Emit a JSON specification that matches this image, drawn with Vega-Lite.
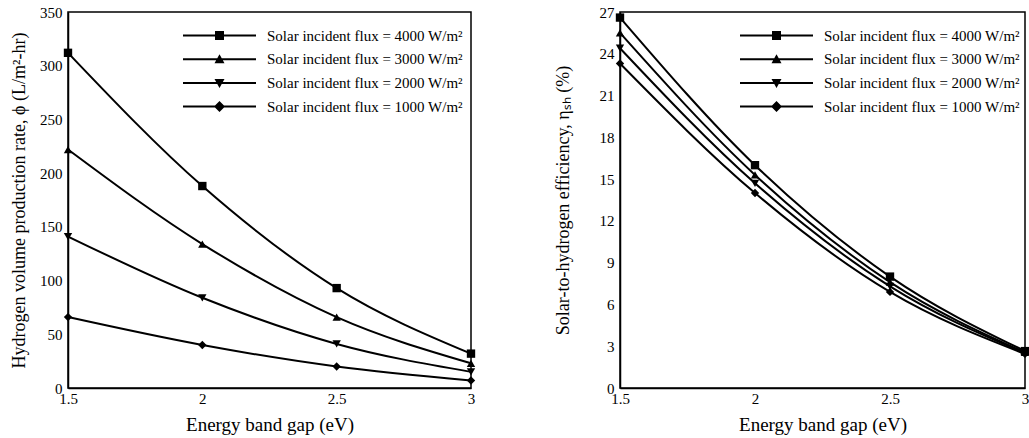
{
  "$schema": "https://vega.github.io/schema/vega-lite/v6.json",
  "background": "white",
  "padding": {"left": 9, "top": 4, "right": 0, "bottom": 0},
  "spacing": 77,
  "config": {
    "font": "Liberation Serif",
    "view": {"stroke": "black", "strokeWidth": 1.5},
    "axis": {
      "domainColor": "black", "domainWidth": 1.5, "ticks": false, "zindex": 1,
      "labelColor": "black", "labelFont": "Liberation Serif", "labelFontSize": 15,
      "titleFont": "Liberation Serif", "titleFontSize": 18, "titleFontWeight": "normal", "titleColor": "black",
      "grid": false, "labelFlush": false, "labelOverlap": false, "labelBound": false
    },
    "axisX": {"titleFontSize": 19},
    "legend": {
      "orient": "none", "title": null, "labelFont": "Liberation Serif", "labelFontSize": 15, "labelColor": "black",
      "labelLimit": 0, "symbolSize": 100, "symbolFillColor": "black", "symbolStrokeColor": "black",
      "symbolStrokeWidth": 0, "labelOffset": 40, "rowPadding": 7.7
    }
  },
  "datasets": {
    "rate": [
      {"gap": 1.5, "flux": "Solar incident flux = 4000 W/m²", "v": 312},
      {"gap": 2.0, "flux": "Solar incident flux = 4000 W/m²", "v": 188},
      {"gap": 2.5, "flux": "Solar incident flux = 4000 W/m²", "v": 93},
      {"gap": 3.0, "flux": "Solar incident flux = 4000 W/m²", "v": 32},
      {"gap": 1.5, "flux": "Solar incident flux = 3000 W/m²", "v": 222},
      {"gap": 2.0, "flux": "Solar incident flux = 3000 W/m²", "v": 134},
      {"gap": 2.5, "flux": "Solar incident flux = 3000 W/m²", "v": 66},
      {"gap": 3.0, "flux": "Solar incident flux = 3000 W/m²", "v": 23},
      {"gap": 1.5, "flux": "Solar incident flux = 2000 W/m²", "v": 141},
      {"gap": 2.0, "flux": "Solar incident flux = 2000 W/m²", "v": 84},
      {"gap": 2.5, "flux": "Solar incident flux = 2000 W/m²", "v": 41},
      {"gap": 3.0, "flux": "Solar incident flux = 2000 W/m²", "v": 15},
      {"gap": 1.5, "flux": "Solar incident flux = 1000 W/m²", "v": 66},
      {"gap": 2.0, "flux": "Solar incident flux = 1000 W/m²", "v": 40},
      {"gap": 2.5, "flux": "Solar incident flux = 1000 W/m²", "v": 20},
      {"gap": 3.0, "flux": "Solar incident flux = 1000 W/m²", "v": 7}
    ],
    "eff": [
      {"gap": 1.5, "flux": "Solar incident flux = 4000 W/m²", "v": 26.6},
      {"gap": 2.0, "flux": "Solar incident flux = 4000 W/m²", "v": 16.0},
      {"gap": 2.5, "flux": "Solar incident flux = 4000 W/m²", "v": 8.0},
      {"gap": 3.0, "flux": "Solar incident flux = 4000 W/m²", "v": 2.65},
      {"gap": 1.5, "flux": "Solar incident flux = 3000 W/m²", "v": 25.5},
      {"gap": 2.0, "flux": "Solar incident flux = 3000 W/m²", "v": 15.3},
      {"gap": 2.5, "flux": "Solar incident flux = 3000 W/m²", "v": 7.6},
      {"gap": 3.0, "flux": "Solar incident flux = 3000 W/m²", "v": 2.55},
      {"gap": 1.5, "flux": "Solar incident flux = 2000 W/m²", "v": 24.4},
      {"gap": 2.0, "flux": "Solar incident flux = 2000 W/m²", "v": 14.7},
      {"gap": 2.5, "flux": "Solar incident flux = 2000 W/m²", "v": 7.3},
      {"gap": 3.0, "flux": "Solar incident flux = 2000 W/m²", "v": 2.5},
      {"gap": 1.5, "flux": "Solar incident flux = 1000 W/m²", "v": 23.3},
      {"gap": 2.0, "flux": "Solar incident flux = 1000 W/m²", "v": 14.0},
      {"gap": 2.5, "flux": "Solar incident flux = 1000 W/m²", "v": 6.9},
      {"gap": 3.0, "flux": "Solar incident flux = 1000 W/m²", "v": 2.45}
    ]
  },
  "hconcat": [
    {
      "width": 403, "height": 376,
      "data": {"name": "rate"},
      "encoding": {
        "x": {"field": "gap", "type": "quantitative", "scale": {"domain": [1.5, 3], "nice": false, "zero": false},
          "axis": {"title": "Energy band gap (eV)", "values": [1.5, 2, 2.5, 3], "format": "~g", "labelPadding": 3, "titlePadding": 9}},
        "y": {"field": "v", "type": "quantitative", "scale": {"domain": [0, 350], "nice": false},
          "axis": {"title": "Hydrogen volume production rate, ϕ (L/m²-hr)", "values": [0, 50, 100, 150, 200, 250, 300, 350], "labelPadding": 6, "titlePadding": 11}}
      },
      "layer": [
        {"mark": {"type": "line", "interpolate": "monotone", "color": "black", "strokeWidth": 2},
         "encoding": {"detail": {"field": "flux"}}},
        {"mark": {"type": "point", "filled": true, "color": "black", "opacity": 1, "size": 70},
         "encoding": {"shape": {"field": "flux", "type": "nominal",
           "scale": {"domain": ["Solar incident flux = 4000 W/m²", "Solar incident flux = 3000 W/m²", "Solar incident flux = 2000 W/m²", "Solar incident flux = 1000 W/m²"],
                     "range": ["square", "triangle-up", "triangle-down", "diamond"]},
           "legend": null}}},
        {"transform": [{"filter": "false"}],
         "mark": {"type": "point", "filled": true, "color": "black", "opacity": 1},
         "encoding": {"shape": {"field": "flux", "type": "nominal",
           "scale": {"domain": ["Solar incident flux = 4000 W/m²", "Solar incident flux = 3000 W/m²", "Solar incident flux = 2000 W/m²", "Solar incident flux = 1000 W/m²"],
                     "range": ["M-7.3,-0.2H7.3V0.2H-7.3ZM-0.9,-0.9H0.9V0.9H-0.9Z", "M-7.3,-0.2H7.3V0.2H-7.3ZM-1,0.8L0,-1L1,0.8Z", "M-7.3,-0.2H7.3V0.2H-7.3ZM-1,-0.8L1,-0.8L0,1Z", "M-7.3,-0.2H7.3V0.2H-7.3ZM-1.1,0L0,-1.1L1.1,0L0,1.1Z"]},
           "legend": {"legendX": 144, "legendY": 16}}}}
      ],
      "resolve": {"scale": {"shape": "independent"}}
    },
    {
      "width": 405, "height": 376,
      "data": {"name": "eff"},
      "encoding": {
        "x": {"field": "gap", "type": "quantitative", "scale": {"domain": [1.5, 3], "nice": false, "zero": false},
          "axis": {"title": "Energy band gap (eV)", "values": [1.5, 2, 2.5, 3], "format": "~g", "labelPadding": 3, "titlePadding": 9}},
        "y": {"field": "v", "type": "quantitative", "scale": {"domain": [0, 27], "nice": false},
          "axis": {"title": "Solar-to-hydrogen efficiency, ηₛₕ (%)", "values": [0, 3, 6, 9, 12, 15, 18, 21, 24, 27], "format": "d", "labelPadding": 6, "titlePadding": 27}}
      },
      "layer": [
        {"mark": {"type": "line", "interpolate": "monotone", "color": "black", "strokeWidth": 2},
         "encoding": {"detail": {"field": "flux"}}},
        {"mark": {"type": "point", "filled": true, "color": "black", "opacity": 1, "size": 70},
         "encoding": {"shape": {"field": "flux", "type": "nominal",
           "scale": {"domain": ["Solar incident flux = 4000 W/m²", "Solar incident flux = 3000 W/m²", "Solar incident flux = 2000 W/m²", "Solar incident flux = 1000 W/m²"],
                     "range": ["square", "triangle-up", "triangle-down", "diamond"]},
           "legend": null}}},
        {"transform": [{"filter": "false"}],
         "mark": {"type": "point", "filled": true, "color": "black", "opacity": 1},
         "encoding": {"shape": {"field": "flux", "type": "nominal",
           "scale": {"domain": ["Solar incident flux = 4000 W/m²", "Solar incident flux = 3000 W/m²", "Solar incident flux = 2000 W/m²", "Solar incident flux = 1000 W/m²"],
                     "range": ["M-7.3,-0.2H7.3V0.2H-7.3ZM-0.9,-0.9H0.9V0.9H-0.9Z", "M-7.3,-0.2H7.3V0.2H-7.3ZM-1,0.8L0,-1L1,0.8Z", "M-7.3,-0.2H7.3V0.2H-7.3ZM-1,-0.8L1,-0.8L0,1Z", "M-7.3,-0.2H7.3V0.2H-7.3ZM-1.1,0L0,-1.1L1.1,0L0,1.1Z"]},
           "legend": {"legendX": 149, "legendY": 16}}}}
      ],
      "resolve": {"scale": {"shape": "independent"}}
    }
  ],
  "resolve": {"scale": {"shape": "independent", "x": "independent", "y": "independent"}, "legend": {"shape": "independent"}}
}
